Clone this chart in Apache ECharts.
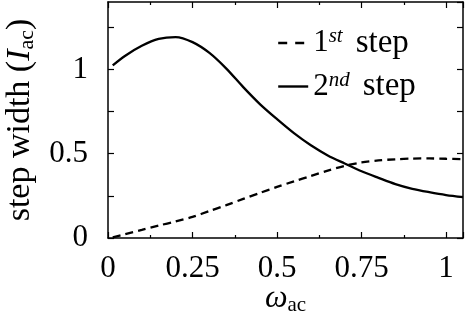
<!DOCTYPE html>
<html>
<head>
<meta charset="utf-8">
<script src="https://cdn.jsdelivr.net/npm/echarts@6/dist/echarts.min.js"></script>
<style>html,body{margin:0;padding:0;background:#fff}#c{width:465px;height:314px}</style>
</head>
<body>
<div id="c"></div>
<script>
// Data
const firstStepX  = [0.014, 0.05, 0.10, 0.15, 0.20, 0.25, 0.30, 0.35, 0.40, 0.45, 0.50, 0.55, 0.60, 0.65, 0.70, 0.75, 0.80, 0.85, 0.90, 0.95, 1.00, 1.05];
const firstStepY  = [0.004, 0.022, 0.048, 0.074, 0.098, 0.125, 0.160, 0.195, 0.232, 0.268, 0.303, 0.336, 0.368, 0.400, 0.428, 0.448, 0.460, 0.467, 0.471, 0.472, 0.470, 0.468];
const secondStepX = [0.014, 0.05, 0.10, 0.15, 0.20, 0.25, 0.30, 0.35, 0.40, 0.45, 0.50, 0.55, 0.60, 0.65, 0.70, 0.75, 0.80, 0.85, 0.90, 0.95, 1.00, 1.05];
const secondStepY = [1.024, 1.080, 1.140, 1.181, 1.192, 1.162, 1.098, 1.005, 0.895, 0.793, 0.705, 0.622, 0.550, 0.490, 0.442, 0.396, 0.357, 0.320, 0.292, 0.272, 0.255, 0.243];
const xTicks = [0, 0.25, 0.5, 0.75, 1];
const yTickLabels = [0, 0.5, 1];
const seriesNames = ['1st', '2nd'];

const FONT = 'Liberation Serif';
const zip = (xs, ys) => xs.map((x, i) => [x, ys[i]]);

const chart = echarts.init(document.getElementById('c'), null, {renderer: 'canvas'});
const axisCommon = {
  type: 'value',
  axisLine: {show: true, onZero: false, lineStyle: {color: '#000', width: 1.5}},
  axisTick: {show: true, inside: true, length: 6, lineStyle: {color: '#000', width: 1.2}},
  splitLine: {show: false}
};
chart.setOption({
  animation: false,
  grid: {left: 108, right: 2, top: 2, bottom: 76, containLabel: false, outerBoundsMode: 'none'},
  legend: {
    orient: 'vertical', left: 272, top: 21, itemWidth: 30, itemHeight: 14, itemGap: 10,
    data: [
      {name: seriesNames[0], lineStyle: {type: [9, 8], width: 2.4, color: '#000'}},
      {name: seriesNames[1], lineStyle: {width: 2.4, color: '#000'}}
    ],
    itemStyle: {color: 'rgba(0,0,0,0)', borderWidth: 0, opacity: 0},
    formatter: n => n === '1st' ? '{n|1}{s|st}{w|step}' : '{n|2}{s|nd}{w|step}',
    textStyle: {
      fontFamily: FONT, fontSize: 31, color: '#000',
      rich: {
        n: {fontFamily: FONT, fontSize: 31, color: '#000', lineHeight: 34},
        s: {fontFamily: FONT, fontSize: 21, fontStyle: 'italic', color: '#000', verticalAlign: 'top', lineHeight: 34},
        w: {fontFamily: FONT, fontSize: 33, color: '#000', lineHeight: 34, padding: [0, 0, 0, 13]}
      }
    }
  },
  xAxis: [
    Object.assign({}, axisCommon, {
      min: 0, max: 1.05, interval: 0.25, position: 'bottom',
      minorTick: {show: true, splitNumber: 2, length: 3, lineStyle: {color: '#000', width: 1.2}},
      axisLabel: {show: true, margin: 15, fontFamily: FONT, fontSize: 31, color: '#000',
        showMaxLabel: false,
        formatter: v => xTicks.some(t => Math.abs(t - v) < 1e-9) ? String(+v.toFixed(2)) : ''},
      name: '{i|ω}{sub|ac}', nameLocation: 'middle', nameGap: 44, nameMoveOverlap: false,
      nameTextStyle: {rich: {
        i: {fontFamily: FONT, fontSize: 32, fontStyle: 'italic', color: '#000', lineHeight: 34},
        sub: {fontFamily: FONT, fontSize: 21, color: '#000', verticalAlign: 'bottom', lineHeight: 34}
      }}
    }),
    Object.assign({}, axisCommon, {
      min: 0, max: 1.05, interval: 0.25, position: 'top',
      minorTick: {show: true, splitNumber: 2, length: 3, lineStyle: {color: '#000', width: 1.2}},
      axisLabel: {show: false}
    })
  ],
  yAxis: [
    Object.assign({}, axisCommon, {
      min: 0, max: 1.4, interval: 0.25, position: 'left',
      axisLabel: {show: true, margin: 20, fontFamily: FONT, fontSize: 31, color: '#000',
        showMaxLabel: false,
        formatter: v => yTickLabels.some(t => Math.abs(t - v) < 1e-9) ? String(v) : ''},
      name: '{n|step width (}{i|I}{sub|ac}{n|)}', nameLocation: 'middle', nameGap: 60,
      nameTextStyle: {rich: {
        n: {fontFamily: FONT, fontSize: 34, color: '#000', lineHeight: 36},
        i: {fontFamily: FONT, fontSize: 34, fontStyle: 'italic', color: '#000', lineHeight: 36},
        sub: {fontFamily: FONT, fontSize: 22, color: '#000', verticalAlign: 'bottom', lineHeight: 36}
      }}
    }),
    Object.assign({}, axisCommon, {
      min: 0, max: 1.4, interval: 0.25, position: 'right',
      axisLabel: {show: false}
    })
  ],
  series: [
    {name: seriesNames[0], type: 'line', smooth: 0.3, symbol: 'none', xAxisIndex: 0, yAxisIndex: 0,
     lineStyle: {color: '#000', width: 2.3, type: [8, 5]}, itemStyle: {color: '#000'},
     data: zip(firstStepX, firstStepY)},
    {name: seriesNames[1], type: 'line', smooth: 0.3, symbol: 'none', xAxisIndex: 0, yAxisIndex: 0,
     lineStyle: {color: '#000', width: 2.3}, itemStyle: {color: '#000'},
     data: zip(secondStepX, secondStepY)}
  ]
});
</script>
</body>
</html>
